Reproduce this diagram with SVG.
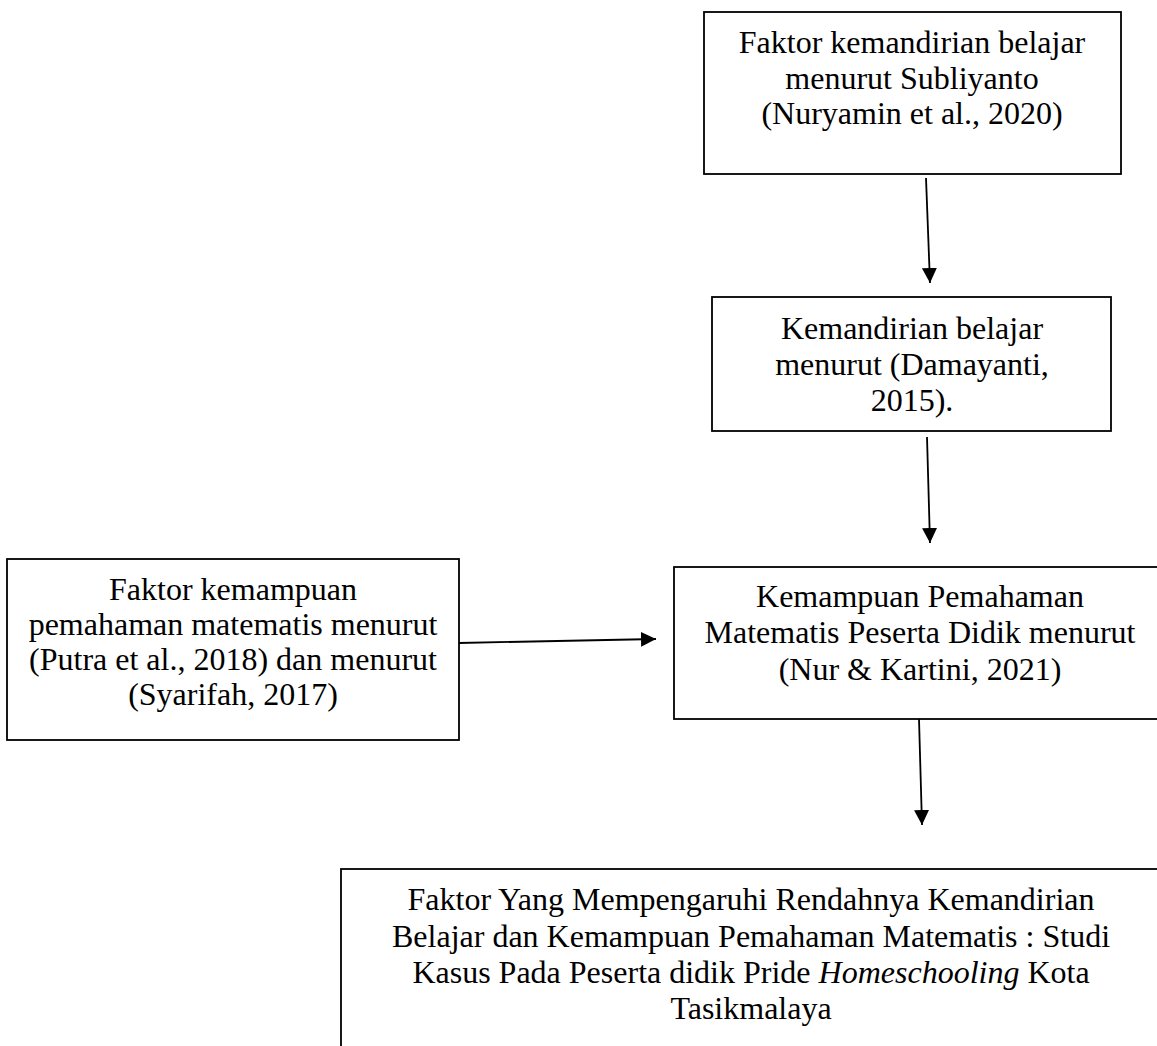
<svg xmlns="http://www.w3.org/2000/svg" width="1157" height="1046" viewBox="0 0 1157 1046">
<style>
.box{fill:#fff;stroke:#000;stroke-width:1.8}
.t{font-family:"Liberation Serif","Times New Roman",serif;font-size:32px;fill:#000;text-anchor:middle}
.c{stroke:#000;stroke-width:1.8;fill:none}
</style>
<defs>
<marker id="ah" markerUnits="userSpaceOnUse" markerWidth="16" markerHeight="16" refX="15" refY="7.5" orient="auto">
<path d="M0,0 L15,7.5 L0,15 z" fill="#000"/>
</marker>
</defs>
<rect width="1157" height="1046" fill="#fff"/>
<g id="connectors">
<line class="c" x1="926" y1="178" x2="930" y2="283" marker-end="url(#ah)"/>
<line class="c" x1="927" y1="437" x2="930" y2="543" marker-end="url(#ah)"/>
<line class="c" x1="459" y1="643" x2="656" y2="639" marker-end="url(#ah)"/>
<line class="c" x1="919" y1="719" x2="922" y2="825" marker-end="url(#ah)"/>
</g>
<g id="n1">
<rect class="box" x="704" y="12" width="417" height="162"/>
<text class="t" x="912" y="53">Faktor kemandirian belajar</text>
<text class="t" x="912" y="89">menurut Subliyanto</text>
<text class="t" x="912" y="124">(Nuryamin et al., 2020)</text>
</g>
<g id="n2">
<rect class="box" x="712" y="297" width="399" height="134"/>
<text class="t" x="912" y="339">Kemandirian belajar</text>
<text class="t" x="912" y="375">menurut (Damayanti,</text>
<text class="t" x="912" y="411">2015).</text>
</g>
<g id="n3">
<rect class="box" x="674" y="567" width="495" height="152"/>
<text class="t" x="920" y="607">Kemampuan Pemahaman</text>
<text class="t" x="920" y="643">Matematis Peserta Didik menurut</text>
<text class="t" x="920" y="680">(Nur &amp; Kartini, 2021)</text>
</g>
<g id="n4">
<rect class="box" x="7" y="559" width="452" height="181"/>
<text class="t" x="233" y="600">Faktor kemampuan</text>
<text class="t" x="233" y="635">pemahaman matematis menurut</text>
<text class="t" x="233" y="670">(Putra et al., 2018) dan menurut</text>
<text class="t" x="233" y="705">(Syarifah, 2017)</text>
</g>
<g id="n5">
<rect class="box" x="341" y="869" width="830" height="200"/>
<text class="t" x="751" y="910">Faktor Yang Mempengaruhi Rendahnya Kemandirian</text>
<text class="t" x="751" y="947">Belajar dan Kemampuan Pemahaman Matematis : Studi</text>
<text class="t" x="751" y="983">Kasus Pada Peserta didik Pride <tspan font-style="italic">Homeschooling</tspan> Kota</text>
<text class="t" x="751" y="1019">Tasikmalaya</text>
</g>
</svg>
